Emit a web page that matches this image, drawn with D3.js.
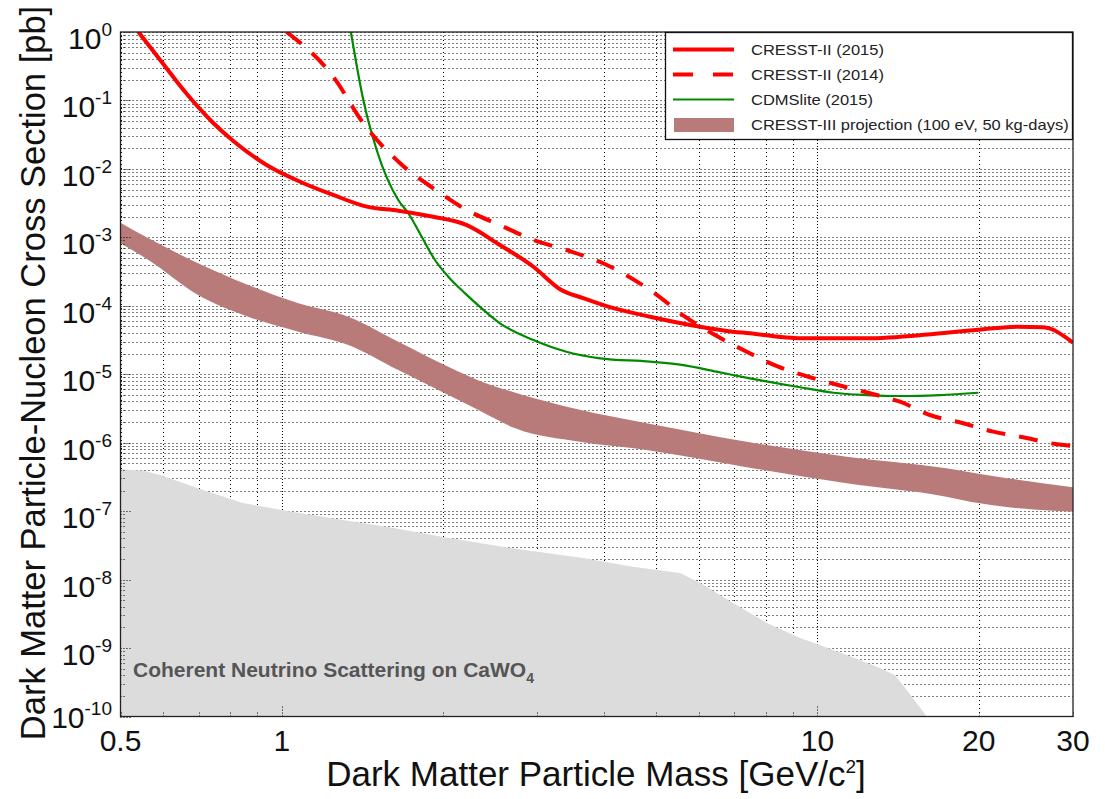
<!DOCTYPE html>
<html>
<head>
<meta charset="utf-8">
<script src="https://cdn.jsdelivr.net/npm/d3@7"></script>
<style>
  html, body { margin: 0; padding: 0; background: #fff; }
  svg { display: block; font-family: "Liberation Sans", Arial, Helvetica, sans-serif; }
</style>
</head>
<body>
<svg id="chart" width="1105" height="799"></svg>
<script>
// ---- data: WIMP-nucleon cross-section limits [pb] vs. dark matter mass [GeV/c^2] ----
const massCresst2015 = [0.54, 0.593, 0.665, 0.745, 0.812, 0.937, 1.082, 1.248, 1.441, 1.65, 1.918, 2.215, 2.555, 2.95, 3.307, 3.655, 4.04, 4.87, 6.04, 6.96, 7.48, 8.64, 9.28, 12.36, 16.46, 20.4, 23.55, 26.4, 30];
const sigmaCresst2015 = [1.0, 0.39, 0.124, 0.0469, 0.0256, 0.0114, 6.5e-3, 4.16e-3, 2.81e-3, 2.45e-3, 2.0e-3, 1.51e-3, 7.73e-4, 3.72e-4, 1.75e-4, 1.29e-4, 9.9e-5, 6.93e-5, 4.95e-5, 4.19e-5, 3.97e-5, 3.47e-5, 3.35e-5, 3.35e-5, 3.87e-5, 4.54e-5, 4.95e-5, 4.85e-5, 2.89e-5];

const massCresst2014 = [1.021, 1.248, 1.42, 1.663, 1.918, 2.215, 2.555, 2.95, 3.40, 3.98, 4.28, 4.97, 5.66, 6.44, 7.38, 8.45, 9.62, 10.93, 12.53, 14.26, 16.22, 18.72, 21.3, 24.2, 27.8, 30];
const sigmaCresst2014 = [1.0, 0.222, 0.0464, 0.0121, 5.21e-3, 2.51e-3, 1.51e-3, 9.15e-4, 6.53e-4, 4.18e-4, 3.15e-4, 1.52e-4, 6.93e-5, 3.74e-5, 2.13e-5, 1.29e-5, 9.2e-6, 6.96e-6, 5.27e-6, 3.97e-6, 2.54e-6, 1.92e-6, 1.45e-6, 1.20e-6, 9.57e-7, 8.95e-7];

const massCdms = [1.346, 1.42, 1.504, 1.65, 1.723, 1.825, 1.932, 2.046, 2.199, 2.362, 2.555, 2.95, 3.40, 3.93, 4.87, 5.62, 6.48, 7.48, 9.28, 10.71, 12.36, 14.26, 16.94, 19.97];
const sigmaCdms = [1.0, 0.1015, 0.0189, 3.51e-3, 2.25e-3, 1.02e-3, 4.67e-4, 2.66e-4, 1.52e-4, 9.19e-5, 5.55e-5, 3.16e-5, 2.13e-5, 1.71e-5, 1.53e-5, 1.36e-5, 1.09e-5, 8.72e-6, 6.45e-6, 5.37e-6, 4.97e-6, 4.81e-6, 4.97e-6, 5.37e-6];

// CRESST-III projection band (100 eV threshold, 50 kg-days)
const massBand = [0.5, 0.564, 0.698, 0.866, 1.074, 1.331, 1.65, 2.046, 2.362, 2.73, 3.6, 4.8, 7.38, 11.34, 17.4, 20.1, 30];
const bandUpper = [1.64e-3, 9.7e-4, 4.18e-4, 2.01e-4, 1.09e-4, 6.94e-5, 2.99e-5, 1.29e-5, 7.78e-6, 5.37e-6, 3.03e-6, 1.92e-6, 1.03e-6, 6.24e-7, 4.23e-7, 3.49e-7, 2.23e-7];
const bandLower = [8.19e-4, 4.67e-4, 1.44e-4, 6.93e-5, 4.19e-5, 2.68e-5, 1.15e-5, 4.98e-6, 2.84e-6, 1.62e-6, 1.03e-6, 7.82e-7, 4.38e-7, 2.55e-7, 1.63e-7, 1.30e-7, 9.8e-8];

// coherent neutrino scattering floor on CaWO4
const massNu = [0.5, 0.551, 0.593, 0.704, 0.846, 1.05, 1.30, 1.61, 2.0, 2.67, 3.65, 4.52, 5.54, 6.04, 6.96, 8.05, 9.28, 10.1, 11.34, 13.08, 13.96, 14.68, 16.0];
const sigmaNu = [4.08e-7, 3.9e-7, 3.37e-7, 2.11e-7, 1.32e-7, 9.7e-8, 7.4e-8, 5.7e-8, 4.2e-8, 2.9e-8, 2.06e-8, 1.54e-8, 1.25e-8, 8.9e-9, 4.55e-9, 2.32e-9, 1.40e-9, 1.11e-9, 7.9e-10, 5.1e-10, 4.0e-10, 2.44e-10, 1e-10];

// axis tick labels
const xTickValues = [0.5, 1, 10, 20, 30];
const xTickLabels = ["0.5", "1", "10", "20", "30"];
const yTickExponents = [0, -1, -2, -3, -4, -5, -6, -7, -8, -9, -10];

const legendLabels = ["CRESST-II (2015)", "CRESST-II (2014)", "CDMSlite (2015)", "CRESST-III projection (100 eV, 50 kg-days)"];

// ---- layout ----
const L = 120.5, R = 1073, T = 32, B = 716.5;
const svg = d3.select("#chart");

const x = d3.scaleLog().domain([0.5, 30]).range([L, R]);
const y = d3.scaleLog().domain([1e-10, 1]).range([B, T]);

svg.append("defs").append("clipPath").attr("id", "plotClip")
  .append("rect").attr("x", L).attr("y", T).attr("width", R - L).attr("height", B - T);

const plot = svg.append("g").attr("clip-path", "url(#plotClip)");

// ---- dotted grid (major + minor) ----
const xGrid = x.ticks(20);
const yGrid = y.ticks(40);
const isDecade = v => Math.abs(Math.log10(v) - Math.round(Math.log10(v))) < 1e-9;

plot.append("g").selectAll("line").data(xGrid).join("line")
  .attr("x1", d => Math.round(x(d)) + 0.5).attr("x2", d => Math.round(x(d)) + 0.5)
  .attr("y1", T).attr("y2", B)
  .attr("stroke", "#000").attr("stroke-width", 1)
  .attr("stroke-dasharray", d => isDecade(d) ? "1,2" : "1,3");

plot.append("g").selectAll("line").data(yGrid).join("line")
  .attr("x1", L).attr("x2", R)
  .attr("y1", d => Math.round(y(d)) + 0.5).attr("y2", d => Math.round(y(d)) + 0.5)
  .attr("stroke", "#000").attr("stroke-width", 1)
  .attr("stroke-dasharray", "1,3");

// ---- neutrino floor ----
const nuPts = massNu.map((m, i) => [m, sigmaNu[i]]);
plot.append("path").datum(nuPts)
  .attr("d", d3.area().x(d => x(d[0])).y0(y(1e-10)).y1(d => y(d[1])))
  .attr("fill", "#dcdcdc");

// small dotted tick marks along left and bottom axes
const tickG = svg.append("g").attr("stroke", "#000").attr("stroke-width", 1).attr("stroke-dasharray", "1,2");
tickG.selectAll("line.yt").data(yGrid).join("line").attr("class", "yt")
  .attr("x1", L).attr("x2", d => L + (isDecade(d) ? 12 : 6))
  .attr("y1", d => Math.round(y(d)) + 0.5).attr("y2", d => Math.round(y(d)) + 0.5);
tickG.selectAll("line.xt").data(xGrid).join("line").attr("class", "xt")
  .attr("x1", d => Math.round(x(d)) + 0.5).attr("x2", d => Math.round(x(d)) + 0.5)
  .attr("y1", B).attr("y2", d => B - (isDecade(d) ? 12 : 6));

const nuText = svg.append("text")
  .attr("x", 133).attr("y", 677)
  .attr("font-size", 21).attr("font-weight", "bold").attr("fill", "#555");
nuText.append("tspan").text("Coherent Neutrino Scattering on CaWO");
nuText.append("tspan").attr("dy", 6).attr("font-size", 14).text("4");

// ---- CRESST-III projection band ----
const bandPts = massBand.map((m, i) => [m, bandLower[i], bandUpper[i]]);
plot.append("path").datum(bandPts)
  .attr("d", d3.area().x(d => x(d[0])).y0(d => y(d[1])).y1(d => y(d[2])).curve(d3.curveMonotoneX))
  .attr("fill", "#b97b79");

// ---- limit curves ----
const line = d3.line().x(d => x(d[0])).y(d => y(d[1])).curve(d3.curveMonotoneX);

plot.append("path").datum(massCdms.map((m, i) => [m, sigmaCdms[i]]))
  .attr("d", line).attr("fill", "none").attr("stroke", "#008a00").attr("stroke-width", 2.2);

plot.append("path").datum(massCresst2014.map((m, i) => [m, sigmaCresst2014[i]]))
  .attr("d", line).attr("fill", "none").attr("stroke", "#ff0000").attr("stroke-width", 4)
  .attr("stroke-dasharray", "19,14");

plot.append("path").datum(massCresst2015.map((m, i) => [m, sigmaCresst2015[i]]))
  .attr("d", line).attr("fill", "none").attr("stroke", "#ff0000").attr("stroke-width", 4);

// ---- frame ----
svg.append("rect").attr("x", L).attr("y", T).attr("width", R - L).attr("height", B - T)
  .attr("fill", "none").attr("stroke", "#222").attr("stroke-width", 1.3);

// ---- axis labels ----
const xl = svg.append("g").attr("font-size", 30).attr("fill", "#111").attr("text-anchor", "middle");
xl.selectAll("text").data(xTickValues).join("text")
  .attr("x", d => x(d)).attr("y", 751)
  .text((d, i) => xTickLabels[i]);

const yl = svg.append("g").attr("font-size", 30).attr("fill", "#111").attr("text-anchor", "end");
yTickExponents.forEach(e => {
  const ty = y(Math.pow(10, e)) + (e === -10 ? 11.5 : 17);
  const t = yl.append("text").attr("x", 112).attr("y", ty);
  t.append("tspan").text("10");
  t.append("tspan").attr("dy", -13).attr("font-size", 19).text(String(e));
});

const xTitle = svg.append("text").attr("x", 596).attr("y", 786)
  .attr("text-anchor", "middle").attr("font-size", 35).attr("fill", "#111");
xTitle.append("tspan").text("Dark Matter Particle Mass [GeV/c");
xTitle.append("tspan").attr("dy", -13).attr("font-size", 19).text("2");
xTitle.append("tspan").attr("dy", 13).text("]");

svg.append("text")
  .attr("transform", "translate(45,373) rotate(-90)")
  .attr("text-anchor", "middle").attr("font-size", 34.5).attr("fill", "#111")
  .text("Dark Matter Particle-Nucleon Cross Section [pb]");

// ---- legend ----
const lg = svg.append("g");
lg.append("rect").attr("x", 665.5).attr("y", 32.5).attr("width", 407).attr("height", 107)
  .attr("fill", "#fff").attr("stroke", "#111").attr("stroke-width", 1.3);
const rowY = [49.5, 74.5, 99.5, 125];
lg.append("line").attr("x1", 673).attr("x2", 734).attr("y1", rowY[0]).attr("y2", rowY[0])
  .attr("stroke", "#ff0000").attr("stroke-width", 4);
lg.append("line").attr("x1", 673).attr("x2", 734).attr("y1", rowY[1]).attr("y2", rowY[1])
  .attr("stroke", "#ff0000").attr("stroke-width", 4).attr("stroke-dasharray", "20,20");
lg.append("line").attr("x1", 673).attr("x2", 734).attr("y1", rowY[2]).attr("y2", rowY[2])
  .attr("stroke", "#008a00").attr("stroke-width", 2.2);
lg.append("rect").attr("x", 674).attr("y", rowY[3] - 7).attr("width", 60).attr("height", 14)
  .attr("fill", "#b97b79");
// legend labels drawn slightly widened, as in the original figure's typesetting
lg.selectAll("text").data(legendLabels).join("text")
  .attr("x", 751).attr("y", (d, i) => rowY[i] + 5)
  .attr("font-size", 15).attr("fill", "#222")
  .text(d => d)
  .each(function () {
    const w = this.getComputedTextLength();
    d3.select(this).attr("textLength", w * 1.1).attr("lengthAdjust", "spacingAndGlyphs");
  });
</script>
</body>
</html>
